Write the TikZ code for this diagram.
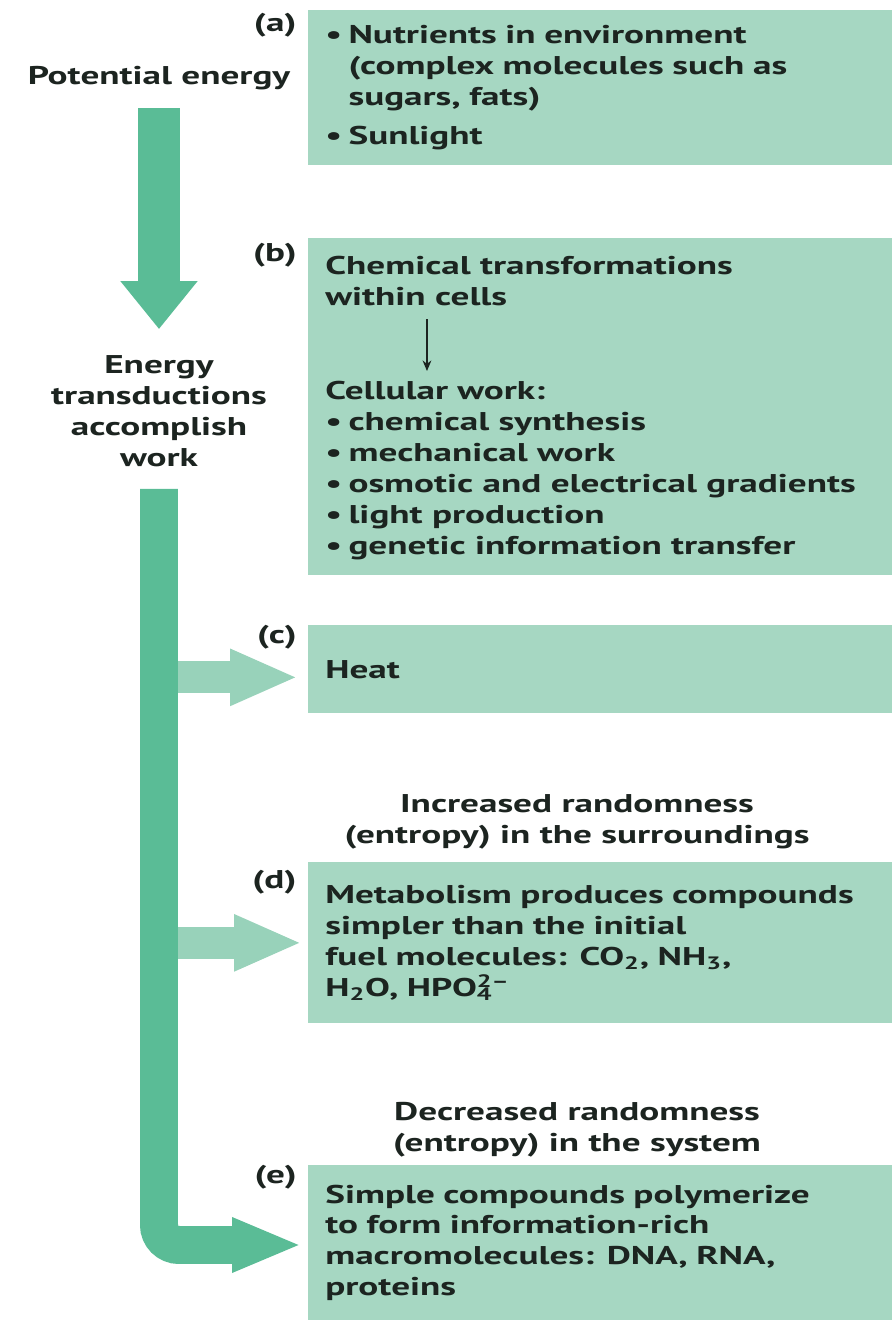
\documentclass[tikz,border=0pt]{standalone}
\usepackage{fontspec}
\setmainfont{PT Sans}[FakeStretch=1.45]
\usetikzlibrary{arrows.meta}

\definecolor{boxgreen}{RGB}{166,215,194}
\definecolor{arrowgreen}{RGB}{90,188,150}
\definecolor{sidegreen}{RGB}{152,210,186}
\definecolor{ink}{RGB}{28,36,32}

\newcommand{\itm}{\textbullet\hspace{0.25em}}
\newcommand{\ind}{\phantom{\itm}}

\tikzset{
  box/.style={fill=boxgreen, anchor=north west, align=left, text width=11.0cm,
    inner xsep=0.34cm, inner ysep=0pt},
  tag/.style={anchor=east, inner sep=0pt},
  plain/.style={inner sep=0pt, align=center},
  bigarrow/.style={draw=arrowgreen, line width=0.84cm, -{Triangle[width=1.48cm,length=0.96cm]}},
  sidearrow/.style={draw=sidegreen, line width=0.64cm, -{Triangle[width=1.04cm,length=1.36cm]}},
  thinarrow/.style={draw=ink, line width=0.9pt, -{Stealth[length=6pt,width=5pt]}}
}

\begin{document}
\begin{tikzpicture}[x=0.02cm, y=-0.02cm, text=ink,
    font=\fontsize{14.6pt}{17.6pt}\selectfont\bfseries]
\useasboundingbox (0,0) rectangle (892,1320);

% boxes
\node[box, minimum height=3.1cm] (a) at (308,10)
  {\itm Nutrients in environment\\ \ind(complex molecules such as\\ \ind sugars, fats)\\[4.5pt] \itm Sunlight};
\node[box, minimum height=6.74cm] (b) at (308,238) {};
\node[box, minimum height=1.76cm] (c) at (308,625) {Heat};
\node[box, minimum height=3.22cm] (d) at (308,862)
  {Metabolism produces compounds\\simpler than the initial\\fuel molecules: CO\textsubscript{2}, NH\textsubscript{3},\\H\textsubscript{2}O, HPO\rlap{\textsubscript{4}}\textsuperscript{2–}};
\node[box, minimum height=3.1cm] (e) at (308,1165)
  {Simple compounds polymerize\\to form information-rich\\macromolecules: DNA, RNA,\\proteins};

% text inside (b)
\node[inner sep=0pt, anchor=north west, align=left] (chem) at (325,256)
  {Chemical transformations\\within cells};
\node[inner sep=0pt, anchor=north west, align=left] (cell) at (325,381)
  {Cellular work:\\ \itm chemical synthesis\\ \itm mechanical work\\ \itm osmotic and electrical gradients\\ \itm light production\\ \itm genetic information transfer};
\draw[thinarrow] ([xshift=2.04cm,yshift=-0.26cm]chem.south west) -- ([xshift=2.04cm,yshift=0.2cm]cell.north west);

% tags
\node[tag] (ta) at (297,25) {(a)};
\node[tag] (tb) at (297,255) {(b)};
\node[tag] (tc) at (297,637) {(c)};
\node[tag] (td) at (297,882) {(d)};
\node[tag] (te) at (297,1177) {(e)};

% left column
\node[plain] (pot) at (159,78) {Potential energy};
\node[plain] (trans) at (159,411) {Energy\\transductions\\accomplish\\work};

% entropy notes
\node[plain] (incr) at (577,822) {Increased randomness\\(entropy) in the surroundings};
\node[plain] (decr) at (577,1130) {Decreased randomness\\(entropy) in the system};

% arrows
\coordinate (tipc) at ([yshift=-0.16cm]c.west);
\coordinate (tipd) at (d.west);
\coordinate (tipe) at ([yshift=-1.6cm]e.north west);
\draw[sidearrow, shorten >=0.2cm] (trans.south |- tipc) -- (tipc);
\draw[sidearrow, shorten >=0.12cm] (trans.south |- tipd) -- (tipd);
\draw[bigarrow, shorten <=0.36cm, shorten >=0.52cm] (pot.south) -- (trans.north);
\draw[bigarrow, line width=0.76cm, -{Triangle[width=1.0cm,length=1.4cm]},
  rounded corners=0.4cm, shorten <=0.44cm, shorten >=0.12cm]
  (trans.south) -- (trans.south |- tipe) -- (tipe);
\end{tikzpicture}
\end{document}
